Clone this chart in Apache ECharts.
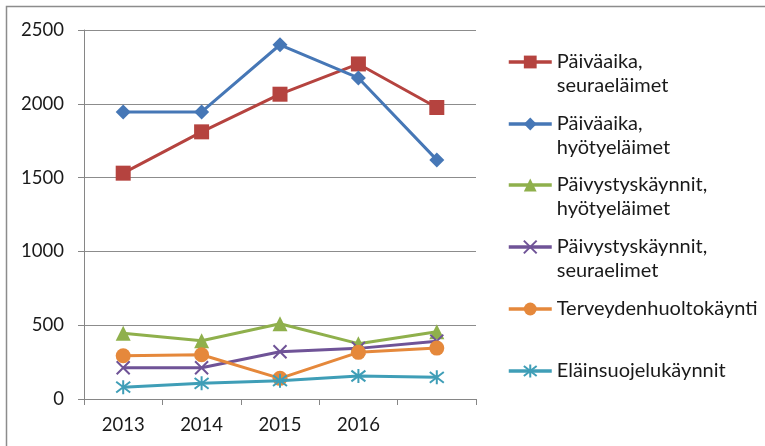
<!DOCTYPE html>
<html><head><meta charset="utf-8">
<script src="https://cdn.jsdelivr.net/npm/echarts@6/dist/echarts.min.js"></script>
<style>html,body{margin:0;padding:0;background:#fff}#c{width:765px;height:446px}</style>
</head><body><div id="c"></div>
<script>
const categories = ['2013', '2014', '2015', '2016', ''];
const seriesNames = ['Päiväaika,\nseuraeläimet', 'Päiväaika,\nhyötyeläimet', 'Päivystyskäynnit,\nhyötyeläimet', 'Päivystyskäynnit,\nseuraelimet', 'Terveydenhuoltokäynti', 'Eläinsuojelukäynnit'];
const paivaSeura = [1530, 1810, 2065, 2270, 1975];
const paivaHyoty = [1945, 1945, 2400, 2175, 1620];
const paivystysHyoty = [445, 395, 510, 375, 455];
const paivystysSeura = [212, 212, 320, 343, 392];
const terveydenhuolto = [293, 300, 140, 316, 345];
const elainsuojelu = [80, 106, 124, 156, 147];
const yMin = 0, yMax = 2500, yStep = 500;

const colors = ['#B5433F', '#4677B6', '#8FB04C', '#6F5397', '#E5883B', '#3F9EB7'];
const dataSets = [paivaSeura, paivaHyoty, paivystysHyoty, paivystysSeura, terveydenhuolto, elainsuojelu];
const symbols = ['rect', 'diamond', 'triangle', 'path://M0,0L10,10M10,0L0,10', 'circle', 'path://M0,0L10,10M10,0L0,10M5,-1.5L5,11.5'];
const symbolSizes = [15, 15, 15, 13, 15, 14];
const FONT = 'Lato';
const TXT = '#1a1a1a';
const legendCenters = [62, 124, 185, 247, 309, 371];

const series = dataSets.map((d, i) => {
  const stroked = i === 3 || i === 5;
  return {
    name: seriesNames[i],
    type: 'line',
    data: d,
    symbol: symbols[i],
    symbolSize: symbolSizes[i],
    showAllSymbol: true,
    lineStyle: { color: colors[i], width: 3 },
    itemStyle: stroked ? { color: colors[i], borderColor: colors[i], borderWidth: 2 } : { color: colors[i], borderWidth: 0 },
    emphasis: { disabled: true },
    z: 2 + i
  };
});

const legends = seriesNames.map((n, i) => {
  const two = n.indexOf('\n') >= 0;
  return {
    data: [n],
    orient: 'vertical',
    left: 507,
    top: legendCenters[i] - (two ? 36 : 12),
    padding: 0,
    itemWidth: 43,
    itemHeight: 16,
    selectedMode: false,
    lineStyle: { width: 3.5 },
    formatter: two ? (name) => '\n' + name : (name) => name,
    textStyle: { fontFamily: FONT, fontSize: 20, lineHeight: 24, color: TXT }
  };
});

const chart = echarts.init(document.getElementById('c'), null, { renderer: 'canvas' });
chart.setOption({
  animation: false,
  backgroundColor: '#ffffff',
  grid: { left: 84, right: 289, top: 30, bottom: 47, containLabel: false },
  xAxis: {
    type: 'category',
    data: categories,
    boundaryGap: true,
    axisLine: { show: true, lineStyle: { color: '#868686', width: 1 } },
    axisTick: { show: true, length: 6, lineStyle: { color: '#868686' } },
    axisLabel: { fontFamily: FONT, fontSize: 18.5, color: TXT, margin: 17 },
    splitLine: { show: false }
  },
  yAxis: {
    type: 'value',
    min: yMin, max: yMax, interval: yStep,
    axisLine: { show: true, lineStyle: { color: '#868686', width: 1 } },
    axisTick: { show: true, length: 6, lineStyle: { color: '#868686' } },
    axisLabel: { fontFamily: FONT, fontSize: 18.5, color: TXT, margin: 20, formatter: (v) => String(v) },
    splitLine: { show: true, lineStyle: { color: '#8c8c8c', width: 1 } }
  },
  legend: legends,
  graphic: [{
    type: 'rect',
    shape: { x: 6.5, y: 6.5, width: 1000, height: 1000 },
    style: { fill: 'none', stroke: '#8c8c8c', lineWidth: 1.5 },
    silent: true
  }],
  series: series
});
</script></body></html>
